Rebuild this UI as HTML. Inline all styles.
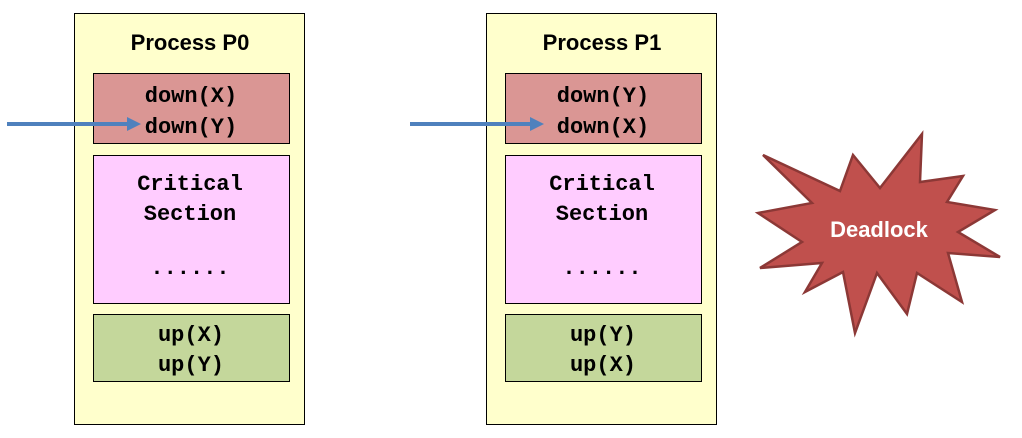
<!DOCTYPE html>
<html><head><style>
body{margin:0;width:1022px;height:433px;background:#fff;overflow:hidden}
</style></head><body>
<svg width="1022" height="433" xmlns="http://www.w3.org/2000/svg">
<g>
<rect x="74.5" y="13.5" width="230" height="411" fill="#ffffcc" stroke="#000" stroke-width="1"/>
<text x="190" y="50" text-anchor="middle" font-family="Liberation Sans, sans-serif" font-weight="bold" font-size="22">Process P0</text>
<rect x="93.5" y="73.5" width="196" height="70" fill="#da9694" stroke="#000"/>
<rect x="93.5" y="155.5" width="196" height="148" fill="#ffccff" stroke="#000"/>
<rect x="93.5" y="314.5" width="196" height="67" fill="#c4d79b" stroke="#000"/>
<g font-family="Liberation Mono, monospace" font-weight="bold" font-size="22" text-anchor="middle">
<text x="191" y="102">down(X)</text>
<text x="191" y="133">down(Y)</text>
<text x="190" y="190">Critical</text>
<text x="190" y="220">Section</text>
<text x="190" y="274">......</text>
<text x="191" y="341">up(X)</text>
<text x="191" y="371">up(Y)</text>
</g>
</g>
<g>
<rect x="486.5" y="13.5" width="230" height="411" fill="#ffffcc" stroke="#000" stroke-width="1"/>
<text x="602" y="50" text-anchor="middle" font-family="Liberation Sans, sans-serif" font-weight="bold" font-size="22">Process P1</text>
<rect x="505.5" y="73.5" width="196" height="70" fill="#da9694" stroke="#000"/>
<rect x="505.5" y="155.5" width="196" height="148" fill="#ffccff" stroke="#000"/>
<rect x="505.5" y="314.5" width="196" height="67" fill="#c4d79b" stroke="#000"/>
<g font-family="Liberation Mono, monospace" font-weight="bold" font-size="22" text-anchor="middle">
<text x="603" y="102">down(Y)</text>
<text x="603" y="133">down(X)</text>
<text x="602" y="190">Critical</text>
<text x="602" y="220">Section</text>
<text x="602" y="274">......</text>
<text x="603" y="341">up(Y)</text>
<text x="603" y="371">up(X)</text>
</g>
</g>
<g fill="#4f81bd" stroke="none">
<rect x="7" y="122" width="122" height="4"/>
<polygon points="127,117 141,124 127,131"/>
<rect x="410" y="122" width="122" height="4"/>
<polygon points="530,117 544,124 530,131"/>
</g>
<polygon points="763,155 840,191 853,155 880,188 922,134 920,182 963,176 947,202 995,210 958,232 1000,257 948,253 962,302 917,273 907,314 877,273 855,333 843,272 805,292 822,263 760,268 802,242 758,213 812,203" fill="#c0504d" stroke="#8c3836" stroke-width="2.5" stroke-linejoin="miter"/>
<text x="879" y="237" text-anchor="middle" font-family="Liberation Sans, sans-serif" font-weight="bold" font-size="22" fill="#fff">Deadlock</text>
</svg>
</body></html>
